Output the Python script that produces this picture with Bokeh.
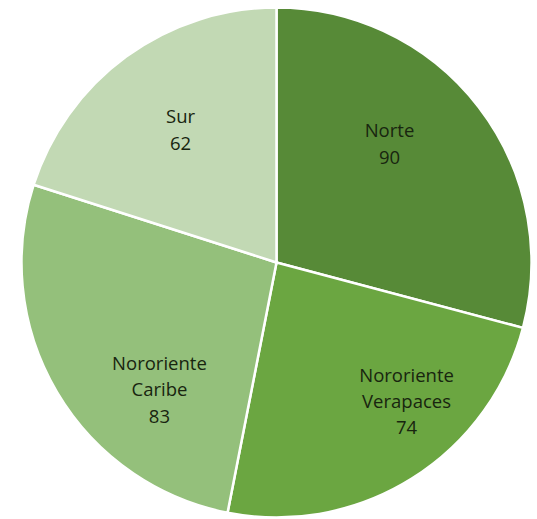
import math
from bokeh.plotting import figure
from bokeh.models import ColumnDataSource, Range1d
from bokeh.core.properties import value
from bokeh.embed import file_html
from bokeh.resources import INLINE

# ---- data ----
regions = ["Norte", "Nororiente\nVerapaces", "Nororiente\nCaribe", "Sur"]
counts = [90, 74, 83, 62]
colors = ["#578a37", "#6ba641", "#94c07b", "#c2d9b4"]

# ---- layout (label anchors as fractions of radius, relative to centre) ----
label_dx = [0.443, 0.510, -0.459, -0.376]
label_dy = [0.469, -0.541, -0.496, 0.524]

W, H = 537, 519
cx, cy, R = 276, 257, 255

total = sum(counts)
starts, ends = [], []
a = math.pi / 2
for c in counts:
    starts.append(a)
    a -= c / total * 2 * math.pi
    ends.append(a)

src = ColumnDataSource(dict(
    start=starts, end=ends, color=colors,
    label=[f"{r}\n{c}" for r, c in zip(regions, counts)],
    lx=[cx + d * R for d in label_dx],
    ly=[cy + d * R for d in label_dy],
))

p = figure(width=W, height=H, output_backend="svg", toolbar_location=None,
           x_range=Range1d(0, W), y_range=Range1d(0, H),
           min_border=0, outline_line_color=None)
p.axis.visible = False
p.grid.visible = False
p.background_fill_color = "white"
p.border_fill_color = "white"

p.wedge(x=cx, y=cy, radius=R, start_angle="start", end_angle="end",
        direction="clock", fill_color="color", line_color="white",
        line_width=2.5, source=src)

p.text(x="lx", y="ly", text="label", source=src,
       text_font=value("Open Sans"), text_font_size="18.5px",
       text_color="#18250f", text_align="center", text_baseline="middle",
       text_line_height=1.05)

open("out.html", "w").write(file_html(p, INLINE))
